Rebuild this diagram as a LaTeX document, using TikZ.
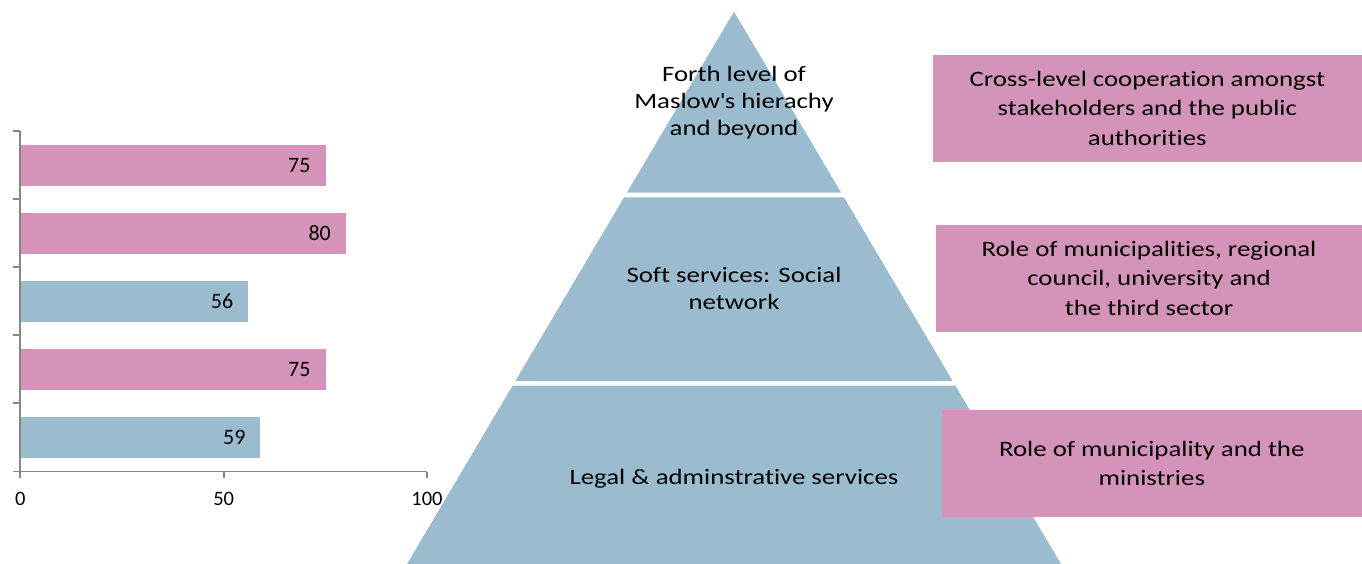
\documentclass[tikz,border=0pt]{standalone}
\usepackage{fontspec}
\setmainfont[Ligatures={TeX,NoCommon}]{Carlito}
\newfontfamily\widefont[FakeStretch=1.22, Ligatures=NoCommon]{Carlito}
\usetikzlibrary{positioning, calc}
\definecolor{C0}{RGB}{212, 148, 186}
\definecolor{C1}{RGB}{155, 187, 207}
\definecolor{C3}{RGB}{134, 134, 134}
\newcommand{\valunit}{4.067pt}
\tikzset{
  bar/.style={
    rectangle, fill=#1, anchor=west, inner sep=0pt,
    minimum height=40.7pt
  },
  val/.style={inner sep=0pt, font=\fontsize{22}{26}\selectfont},
  axis/.style={draw=C3, line width=1.7pt},
  lbl/.style={inner sep=0pt, anchor=base, font=\fontsize{20.5}{24}\selectfont},
  tier/.style={fill=C1},
  lvl/.style={inner sep=0pt, align=center, font=\widefont\fontsize{22}{27}\selectfont},
  role/.style={
    rectangle, fill=C0, inner sep=0pt,
    minimum height=106.7pt, align=center,
    font=\widefont\fontsize{22}{29.7}\selectfont
  },
}

\begin{document}
\begin{tikzpicture}[x=1pt, y=-1pt]

  \useasboundingbox (0,0) rectangle (1362,564);

  %% ── Bar chart ──────────────────────────────────────────────────────────────

  \node[bar=C0, minimum width=75*\valunit] (row1) at (20.3,165.3) {};
  \node[val, left=15pt of row1.east] (v1) {75};

  \node[bar=C0, minimum width=80*\valunit] (row2) at (20.3,233.4) {};
  \node[val, left=15pt of row2.east] (v2) {80};

  \node[bar=C1, minimum width=56*\valunit] (row3) at (20.3,301.5) {};
  \node[val, left=15pt of row3.east] (v3) {56};

  \node[bar=C0, minimum width=75*\valunit] (row4) at (20.3,369.5) {};
  \node[val, left=15pt of row4.east] (v4) {75};

  \node[bar=C1, minimum width=59*\valunit] (row5) at (20.3,437.5) {};
  \node[val, left=15pt of row5.east] (v5) {59};

  % axes and ticks
  \coordinate (origin) at (20.3,471.5);
  \coordinate (ytop)   at (20.3,131);
  \coordinate (xend)   at (427,471.5);
  \draw[axis] (ytop) -- (origin) -- (xend);
  \foreach \y in {131,199,267,335,403,471.5}
    \draw[axis] (12.7,\y) -- (20.3,\y);
  \foreach \v in {0,50,100} {
    \draw[axis] (20.3+\v*4.067,471.5) -- ++(0,6.5);
    \node[lbl] (x\v) at (20.3+\v*4.067,505) {\v};
  }

  %% ── Pyramid ────────────────────────────────────────────────────────────────

  \coordinate (apex) at (734,11.7);
  \coordinate (bl)   at (407,564);
  \coordinate (br)   at (1061,564);

  \fill[tier] (apex) -- ($(apex)!0.3277!(bl)$) -- ($(apex)!0.3277!(br)$) -- cycle;
  \fill[tier] ($(apex)!0.3361!(bl)$) -- ($(apex)!0.6687!(bl)$)
    -- ($(apex)!0.6687!(br)$) -- ($(apex)!0.3361!(br)$) -- cycle;
  \fill[tier] ($(apex)!0.6772!(bl)$) -- (bl) -- (br)
    -- ($(apex)!0.6772!(br)$) -- cycle;

  \node[lvl] (maslow) at (734,102.3)
    {Forth level of\\Maslow\textquotesingle s hierachy\\and beyond};
  \node[lvl] (soft) at (734,288.2)
    {Soft services: Social\\network};
  \node[lvl, anchor=base] (legal) at (734,484.3)
    {Legal \& adminstrative services};

  %% ── Role boxes ─────────────────────────────────────────────────────────────

  \node[role, minimum width=429.3pt] (coop) at (1147.3,108.3)
    {Cross-level cooperation amongst\\stakeholders and the public\\authorities};
  \node[role, minimum width=426pt] (munis) at (1149,278.3)
    {Role of municipalities, regional\\council, university and\\the third sector};
  \node[role, minimum width=420.3pt] (minis) at (1151.8,463.3)
    {Role of municipality and the\\ministries};

\end{tikzpicture}
\end{document}
